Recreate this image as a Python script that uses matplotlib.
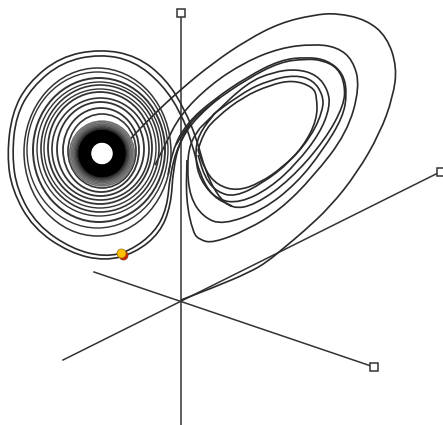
import matplotlib
matplotlib.use("Agg")
import matplotlib.pyplot as plt
from matplotlib.path import Path
from matplotlib.patches import PathPatch, Ellipse

# axis ends, picture pixels
axis_lines = [[(181, 13), (181, 425)], [(94, 272), (374, 367)], [(63, 360), (440, 172)]]
axis_boxes = [(181, 13), (374, 367), (441, 172)]

# traced strands of the curve
entry = [(181, 300), (215, 287), (250, 272), (267, 262), (285, 247), (303, 232), (330, 207), (357, 173),
         (380, 133), (393, 97), (397, 67), (387, 37), (367, 20), (337, 13), (313, 15), (280, 23),
         (247, 40), (213, 63), (180, 90), (150, 118), (123, 147)]
outer_a = [(190, 125), (180, 140), (173, 170), (171, 205), (160, 233), (135, 253), (105, 261), (70, 253),
           (33, 228), (12, 190), (7, 155), (12, 113), (28, 83), (60, 57), (100, 49), (137, 56), (166, 79),
           (185, 110), (197, 140), (205, 170), (217, 195), (232, 209), (255, 205), (290, 180), (325, 140),
           (344, 105), (345, 85), (338, 68), (322, 60), (305, 59), (280, 62), (247, 79), (212, 103),
           (190, 122), (176, 145)]
outer_b = [(220, 97), (195, 118), (178, 145), (170, 175), (167, 208), (155, 232), (130, 251), (105, 257),
           (72, 249), (37, 225), (17, 190), (12, 155), (16, 116), (32, 87), (62, 62), (100, 54), (134, 61),
           (162, 84), (181, 113), (192, 143), (200, 175), (213, 197), (232, 206)]
right_1 = [(155, 165), (165, 145), (180, 115), (210, 85), (245, 62), (280, 48), (313, 44), (337, 47),
           (353, 60), (360, 87), (347, 133), (313, 177), (280, 210), (247, 230), (213, 243), (200, 240),
           (193, 233), (186, 200), (187, 160)]
right_2 = [(168, 175), (172, 150), (187, 123), (213, 100), (247, 77), (280, 60), (307, 57), (327, 60),
           (343, 73), (347, 93), (343, 117), (323, 150), (297, 183), (263, 210), (223, 225), (203, 217),
           (190, 197), (187, 167), (190, 143), (200, 128)]
right_3 = [(200, 128), (213, 115), (247, 83), (273, 72), (297, 69), (317, 75), (328, 90), (330, 107),
           (320, 133), (297, 163), (270, 188), (240, 203), (217, 200), (200, 180), (195, 157), (198, 135),
           (215, 113)]
right_4 = [(215, 113), (243, 92), (270, 80), (295, 75), (313, 80), (323, 95), (323, 110), (312, 135),
           (290, 162), (263, 183), (235, 197), (217, 192), (205, 178), (198, 155)]
right_5 = [(198, 150), (203, 133), (217, 117), (243, 97), (270, 85), (293, 80), (313, 87), (317, 97),
           (317, 120), (303, 147), (283, 167), (260, 183), (237, 191), (217, 185), (205, 170), (198, 150)]
strands = [entry, outer_a, outer_b, right_1, right_2, right_3, right_4, right_5]

# left lobe rings: edges read along the row and column through the hole
ring_left = [24, 27, 33, 37, 41, 44, 48, 52, 57, 63, 68]
ring_right = [171, 168, 165, 162, 159, 156, 152, 149, 144, 139, 136]
ring_top = [68, 72, 78, 82, 85, 89, 92, 98, 102, 108, 114]
ring_bottom = [236, 228, 222, 216, 212, 208, 204, 200, 196, 192, 188]
ring_widths = [1.1, 1.0, 1.4, 1.0, 1.2, 1.0, 1.3, 1.2, 1.3, 1.3, 1.2]

# dense core, dark near the hole and fading outward
core_x, core_y = 102, 153.5
core_radii = [32.3, 30.8, 29.4, 28.1, 26.9, 25.7, 24.6, 23.5, 22.5, 21.5, 20.5, 19.5, 18.5, 17.5,
              16.5, 15.5, 14.5, 13.5, 12.5, 11.6]
core_greys = ["#707070", "#707070", "#666666", "#606060", "#505050", "#404040", "#303030",
              "#202020", "#000000", "#000000", "#000000", "#000000", "#000000", "#000000", "#000000",
              "#000000", "#000000", "#000000", "#000000", "#000000"]
core_widths = [1.2, 1.2, 1.2, 1.2, 1.2, 1.2, 1.2, 1.2, 1.7, 1.7, 1.7, 1.7, 1.7, 1.7, 1.7, 1.7,
               1.7, 1.7, 1.7, 1.2]

# moving point
dot_red = (123, 255)
dot_yellow = (121, 253)


def smooth(points):
    verts = [points[0]]
    codes = [Path.MOVETO]
    for a, b in zip(points[1:-1], points[2:]):
        verts += [a, ((a[0] + b[0]) / 2, (a[1] + b[1]) / 2)]
        codes += [Path.CURVE3, Path.CURVE3]
    verts.append(points[-1])
    codes.append(Path.LINETO)
    return Path(verts, codes)


fig = plt.figure(figsize=(4.43, 4.25), dpi=100)
ax = fig.add_axes([0, 0, 1, 1])
ax.set_xlim(0, 443)
ax.set_ylim(425, 0)
ax.axis("off")

for line in axis_lines:
    ax.plot([line[0][0], line[1][0]], [line[0][1], line[1][1]], color="#333333", lw=1.1, zorder=1)
for box in axis_boxes:
    ax.plot(box[0], box[1], "s", ms=5.5, mfc="white", mec="#333333", mew=1.1, zorder=3)

for s in strands:
    ax.add_patch(PathPatch(smooth(s), fc="none", ec="#2a2a2a", lw=1.2, zorder=2))

for l, r, t, b, w in zip(ring_left, ring_right, ring_top, ring_bottom, ring_widths):
    ax.add_patch(Ellipse(((l + r) / 2, (t + b) / 2), r - l, b - t, fc="none", ec="#333333", lw=w, zorder=2))
for rad, c, w in zip(core_radii, core_greys, core_widths):
    ax.add_patch(Ellipse((core_x, core_y), rad * 2, rad * 2, fc="none", ec=c, lw=w, zorder=2))

ax.plot(dot_red[0], dot_red[1], "o", ms=6.5, mfc="#cc1a00", mec="#8a3a00", mew=0.5, zorder=4)
ax.plot(dot_yellow[0], dot_yellow[1], "o", ms=6.5, mfc="#ffc000", mec="#9a7000", mew=0.5, zorder=5)

fig.savefig("out.png", dpi=100)
